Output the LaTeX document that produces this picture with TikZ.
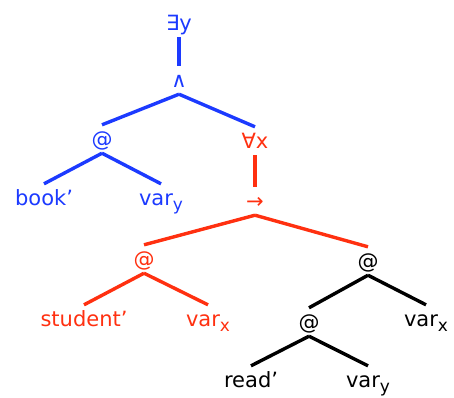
\documentclass[tikz,border=0pt]{standalone}
\usepackage{fontspec}
\setmainfont{DejaVu Sans}
\definecolor{tblue}{RGB}{28,58,255}
\definecolor{tred}{RGB}{255,48,16}
\newcommand\lsub[1]{\raisebox{-5pt}{\fontsize{17}{17}\selectfont #1}}

\begin{document}
\begin{tikzpicture}[x=1pt, y=-1pt,
  lbl/.style={anchor=base, inner sep=2pt, text height=19pt, text depth=5pt,
    font=\fontsize{21}{25}\selectfont},
  edge/.style={line width=3.4pt}]
  \useasboundingbox (0,0) rectangle (454,397);
  % quantifier spine
  \node[lbl, text=tblue] (ey) at (179,30) {∃y};
  \node[lbl, text=tblue] (conj) at (179,87) {∧};
  \node[lbl, text=tblue] (appb) at (102,146) {@};
  \node[lbl, text=tblue] (book) at (44,205) {book’};
  \node[lbl, text=tblue] (varyb) at (161,205) {var\lsub{y}};
  \node[lbl, text=tred] (ax) at (255,148) {∀x};
  \node[lbl, text=tred] (imp) at (255,208) {→};
  % restrictor
  \node[lbl, text=tred] (appr) at (144,266) {@};
  \node[lbl, text=tred] (student) at (84,326) {student’};
  \node[lbl, text=tred] (varxr) at (208,326) {var\lsub{x}};
  % nuclear scope
  \node[lbl] (appk) at (368,268) {@};
  \node[lbl] (appl) at (309,329) {@};
  \node[lbl] (varxk) at (426,326) {var\lsub{x}};
  \node[lbl] (read) at (251,387) {read’};
  \node[lbl] (varyk) at (368,387) {var\lsub{y}};

  \draw[edge, tblue] (ey.south) -- (conj.north);
  \draw[edge, tblue] (conj.south) -- (appb.north);
  \draw[edge, tblue] (conj.south) -- (ax.north);
  \draw[edge, tblue] (appb.south) -- (book.north);
  \draw[edge, tblue] (appb.south) -- (varyb.north);
  \draw[edge, tred] (ax.south) -- (imp.north);
  \draw[edge, tred] (imp.south) -- (appr.north);
  \draw[edge, tred] (imp.south) -- (appk.north);
  \draw[edge, tred] (appr.south) -- (student.north);
  \draw[edge, tred] (appr.south) -- (varxr.north);
  \draw[edge] (appk.south) -- (appl.north);
  \draw[edge] (appk.south) -- (varxk.north);
  \draw[edge] (appl.south) -- (read.north);
  \draw[edge] (appl.south) -- (varyk.north);
\end{tikzpicture}
\end{document}
